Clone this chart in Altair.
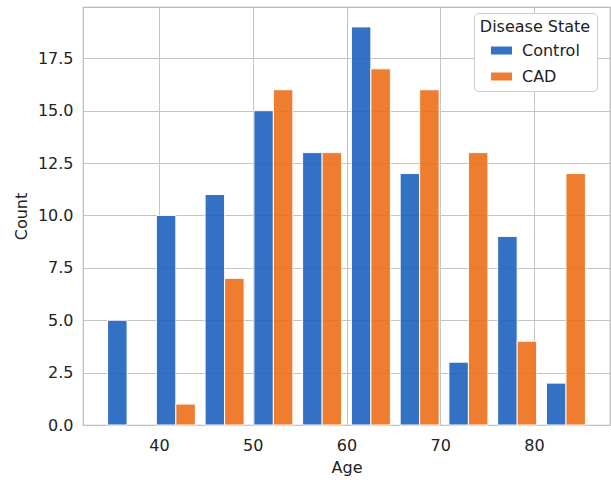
import altair as alt
import pandas as pd

bin_edges = [34.0, 39.2, 44.4, 49.6, 54.8, 60.0, 65.2, 70.4, 75.6, 80.8, 86.0]
control_counts = [5, 10, 11, 15, 13, 19, 12, 3, 9, 2]
cad_counts = [0, 1, 7, 16, 13, 17, 16, 13, 4, 12]
groups = ["Control", "CAD"]
x_ticks = [40, 50, 60, 70, 80]
y_ticks = [0, 2.5, 5, 7.5, 10, 12.5, 15, 17.5]

shrink = 0.8
rows = []
for i in range(len(control_counts)):
    lo, hi = bin_edges[i], bin_edges[i + 1]
    c = (lo + hi) / 2
    half = (hi - lo) * shrink / 2
    rows.append({"group": "Control", "x": c - half, "x2": c, "count": control_counts[i]})
    rows.append({"group": "CAD", "x": c, "x2": c + half, "count": cad_counts[i]})
df = pd.DataFrame(rows)

FONT = "DejaVu Sans"

chart = alt.Chart(df).transform_filter(
    alt.datum.count > 0
).mark_bar(
    stroke="white", strokeWidth=1, opacity=0.9
).encode(
    x=alt.X("x:Q", scale=alt.Scale(domain=[31.9, 88.1], nice=False, zero=False),
            axis=alt.Axis(title="Age", values=x_ticks, format="d", labelFontSize=16,
                          titleFontSize=16, labelPadding=12, titlePadding=6,
                          ticks=False, domain=False, titleFontWeight="normal")),
    x2="x2:Q",
    y=alt.Y("count:Q", stack=None, scale=alt.Scale(domain=[0, 19.95], nice=False),
            axis=alt.Axis(title="Count", values=y_ticks, format=".1f", labelFontSize=16,
                          titleFontSize=16, labelPadding=10, titlePadding=8,
                          ticks=False, domain=False, titleFontWeight="normal")),
    y2=alt.datum(0),
    color=alt.Color("group:N", scale=alt.Scale(domain=groups, range=["#1c62be", "#ed6f1a"]),
                    legend=alt.Legend(title="Disease State", orient="none", legendX=391, legendY=6,
                                      symbolType="M-1,-0.38H1V0.38H-1Z", symbolSize=441,
                                      symbolStrokeWidth=0, symbolOpacity=0.9,
                                      labelFontSize=16, titleFontSize=16, titleFontWeight="normal",
                                      labelOffset=10, rowPadding=7, padding=6,
                                      fillColor="white", strokeColor="#cccccc", cornerRadius=4,
                                      titleAnchor="middle", titlePadding=5)),
).properties(
    width=527, height=418,
    autosize=alt.AutoSizeParams(type="none"),
    padding={"left": 83, "top": 7, "right": 1, "bottom": 55},
).configure(
    font=FONT,
).configure_axis(
    gridColor="#c4c4c4", gridWidth=1, labelColor="#222222", titleColor="#222222",
    labelFont=FONT, titleFont=FONT,
).configure_legend(
    labelFont=FONT, titleFont=FONT, labelColor="#222222", titleColor="#222222",
).configure_view(
    stroke="#b8b8b8", strokeWidth=1.2,
)

chart.save("out.html", embed_options={"renderer": "svg", "actions": False})
